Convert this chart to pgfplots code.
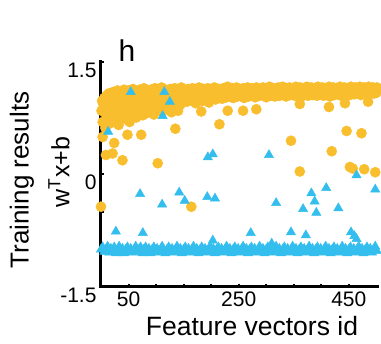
\documentclass[border=0pt]{standalone}
\usepackage{pgfplots}
\pgfplotsset{compat=1.18}
\usepackage{fontspec}
\setmainfont{Liberation Sans}
\definecolor{orng}{RGB}{249,190,45}
\definecolor{blu}{RGB}{52,190,238}
\begin{document}
\begin{tikzpicture}
\path[use as bounding box] (-101pt,-57pt) rectangle (280pt,287pt);
\begin{axis}[
  scale only axis,
  width=277pt, height=225pt,
  xmin=0, xmax=503, ymin=-1.5, ymax=1.5,
  axis x line*=bottom, axis y line*=left,
  axis line style={line width=3pt, line cap=rect},
  clip=false, axis on top,
  xtick={50,100,...,450},
  xticklabels={50,,,,250,,,,450},
  ytick={-1.5,-1,-0.5,0,0.5,1,1.5},
  yticklabels={-1.5,,,0,,,1.5},
  tick align=inside,
  major tick length=3pt,
  tick style={line width=2pt, black},
  /pgf/number format/assume math mode=true,
  tick label style={font=\fontsize{21}{21}\selectfont},
  yticklabel style={yshift=-8pt, xshift=-1pt},
  xticklabel style={yshift=-1pt},
]
% orange: cloud x<150, band, and outliers
\addplot[only marks, mark=*, mark size=5.1pt, color=orng, mark options={draw=orng, fill=orng}] coordinates {
(2,0.98)(6,1.02)(10,1.05)(14,1.08)(18,1.04)(22,1.10)(26,1.07)(30,1.12)(34,1.06)(38,1.10)
(42,1.13)(46,1.08)(50,1.12)(54,1.05)(58,1.14)(62,1.10)(66,1.07)(70,1.13)(74,1.09)(78,1.15)
(82,1.11)(86,1.06)(90,1.13)(94,1.10)(98,1.15)(102,1.08)(106,1.12)(110,1.16)(114,1.10)(118,1.13)
(122,1.07)(126,1.14)(130,1.11)(134,1.15)(138,1.09)(142,1.13)(146,1.16)
(1,0.85)(5,0.92)(9,0.80)(13,0.95)(17,0.88)(21,0.97)(25,0.90)(29,0.84)(33,0.99)(37,0.93)
(41,0.87)(45,0.96)(49,1.00)(53,0.91)(57,0.97)(61,0.89)(65,1.02)(69,0.94)(73,0.99)(77,0.92)
(81,1.03)(85,0.96)(89,0.90)(93,1.00)(97,0.95)(101,1.04)(105,0.93)(109,1.01)(113,0.97)(117,1.05)
(121,0.99)(125,0.95)(129,1.02)(133,0.98)(137,1.06)(141,1.00)(145,1.04)(149,0.97)
(3,0.70)(8,0.62)(12,0.75)(16,0.68)(20,0.80)(24,0.72)(28,0.85)(32,0.66)(36,0.78)(40,0.82)
(44,0.74)(48,0.86)(52,0.70)(56,0.80)(60,0.88)(64,0.76)(68,0.84)(72,0.90)(76,0.79)(80,0.86)
(84,0.82)(88,0.92)(92,0.85)(96,0.80)(100,0.88)(104,0.93)(108,0.84)(112,0.90)(116,0.86)(120,0.92)
(124,0.88)(128,0.83)(132,0.94)(136,0.89)(140,0.85)(144,0.93)
(150,1.12)(154,1.09)(158,1.14)(162,1.11)(166,1.15)(170,1.10)(174,1.13)(178,1.16)(182,1.11)(186,1.14)
(190,1.12)(194,1.15)(198,1.10)(202,1.13)(206,1.16)(210,1.12)(214,1.14)(218,1.11)(222,1.15)(226,1.13)
(230,1.17)(234,1.12)(238,1.15)(242,1.13)(246,1.16)(250,1.14)(254,1.11)(258,1.15)(262,1.13)(266,1.16)
(270,1.12)(274,1.15)(278,1.13)(282,1.16)(286,1.14)(290,1.12)(294,1.16)(298,1.13)(302,1.15)(306,1.17)
(310,1.13)(314,1.15)(318,1.12)(322,1.16)(326,1.14)(330,1.17)(334,1.13)(338,1.15)(342,1.16)(346,1.12)
(350,1.15)(354,1.17)(358,1.14)(362,1.16)(366,1.13)(370,1.15)(374,1.17)(378,1.14)(382,1.16)(386,1.13)
(390,1.15)(394,1.17)(398,1.14)(402,1.16)(406,1.13)(410,1.15)(414,1.17)(418,1.14)(422,1.16)(426,1.13)
(430,1.15)(434,1.17)(438,1.14)(442,1.16)(446,1.15)(450,1.13)(454,1.17)(458,1.15)(462,1.16)(466,1.14)
(470,1.17)(474,1.15)(478,1.16)(482,1.14)(486,1.17)(490,1.15)(494,1.16)(498,1.14)(501,1.16)
(152,1.02)(156,0.97)(160,1.05)(164,0.99)(168,1.04)(172,0.95)(176,1.06)(180,1.01)(184,0.98)(188,1.05)
(192,1.02)(196,0.96)(200,1.06)(204,1.03)(208,1.00)(212,1.07)(216,1.04)(220,1.01)(224,1.06)(228,1.03)
(232,1.08)(236,1.05)(240,1.02)(244,1.07)(248,1.04)(252,1.08)(256,1.05)(260,1.02)(264,1.07)(268,1.04)
(272,1.08)(276,1.06)(280,1.03)(284,1.07)(288,1.05)(292,1.09)(296,1.06)(300,1.03)(304,1.08)(308,1.05)
(312,1.09)(316,1.04)(320,1.07)(324,1.05)(328,1.09)(332,1.06)(336,1.04)(340,1.08)(344,1.06)(348,1.09)
(352,1.05)(356,1.08)(360,1.06)(364,1.04)(368,1.09)(372,1.07)(376,1.05)(380,1.09)(384,1.06)(388,1.08)
(392,1.05)(396,1.09)(400,1.07)(404,1.05)(408,1.09)(412,1.06)(416,1.04)(420,1.08)(424,1.06)(428,1.09)
(432,1.07)(436,1.05)(440,1.09)(444,1.07)(448,1.10)(452,1.06)(456,1.09)(460,1.07)(464,1.10)(468,1.08)
(472,1.06)(476,1.10)(480,1.08)(484,1.09)(488,1.07)(492,1.10)(496,1.08)(500,1.09)
(24,0.42)(21,0.28)(9,0.26)(39,0.19)(3,0.50)(48,0.53)(73,0.53)(135,0.61)(103,0.15)
(0,-0.43)(164,-0.43)
(182,0.84)(215,0.67)(230,0.85)(258,0.85)(282,0.87)(361,0.94)(414,0.90)(443,0.95)(485,0.97)
(345,0.45)(361,0.04)(419,0.31)(446,0.58)(473,0.55)(452,0.10)(457,0.08)(478,0.07)(498,0.03)
};
% blue: band and outliers
\addplot[only marks, mark=triangle*, mark size=5.4pt, color=blu, mark options={draw=blu, fill=blu}] coordinates {
(0,-1.00)(3,-0.97)(6,-1.03)(9,-1.00)(12,-0.96)(15,-1.04)(18,-0.99)(21,-1.02)(24,-0.97)(27,-1.05)
(30,-1.00)(33,-0.96)(36,-1.03)(39,-0.99)(42,-1.05)(45,-1.00)(48,-0.97)(51,-1.03)(54,-0.99)(57,-1.04)
(60,-1.01)(63,-0.96)(66,-1.03)(69,-1.00)(72,-0.97)(75,-1.05)(78,-1.00)(81,-0.97)(84,-1.03)(87,-0.99)
(90,-1.05)(93,-1.00)(96,-0.97)(99,-1.03)(102,-0.99)(105,-1.04)(108,-1.00)(111,-0.96)(114,-1.03)(117,-1.05)
(120,-1.00)(123,-0.97)(126,-1.03)(129,-0.99)(132,-1.04)(135,-1.00)(138,-0.96)(141,-1.03)(144,-0.99)(147,-1.05)
(150,-1.00)(153,-0.97)(156,-1.03)(159,-0.99)(162,-1.04)(165,-1.00)(168,-0.96)(171,-1.03)(174,-0.99)(177,-1.05)
(180,-1.00)(183,-0.97)(186,-1.03)(189,-0.99)(192,-1.04)(195,-1.00)(198,-0.96)(201,-1.03)(204,-0.99)(207,-1.05)
(210,-1.00)(213,-0.97)(216,-1.03)(219,-0.99)(222,-1.04)(225,-1.00)(228,-0.96)(231,-1.03)(234,-0.99)(237,-1.05)
(240,-1.00)(243,-0.97)(246,-1.03)(249,-0.99)(252,-1.04)(255,-1.00)(258,-0.96)(261,-1.03)(264,-0.99)(267,-1.05)
(270,-1.00)(273,-0.97)(276,-1.03)(279,-0.99)(282,-1.04)(285,-1.00)(288,-0.96)(291,-1.03)(294,-0.99)(297,-1.05)
(300,-1.00)(303,-0.97)(306,-1.03)(309,-0.99)(312,-1.04)(315,-1.00)(318,-0.96)(321,-1.03)(324,-0.99)(327,-1.05)
(330,-1.00)(333,-0.97)(336,-1.03)(339,-0.99)(342,-1.04)(345,-1.00)(348,-0.96)(351,-1.03)(354,-0.99)(357,-1.05)
(360,-1.00)(363,-0.97)(366,-1.03)(369,-0.99)(372,-1.04)(375,-1.00)(378,-0.96)(381,-1.03)(384,-0.99)(387,-1.05)
(390,-1.00)(393,-0.97)(396,-1.03)(399,-0.99)(402,-1.04)(405,-1.00)(408,-0.96)(411,-1.03)(414,-0.99)(417,-1.05)
(420,-1.00)(423,-0.97)(426,-1.03)(429,-0.99)(432,-1.04)(435,-1.00)(438,-0.96)(441,-1.03)(444,-0.99)(447,-1.05)
(450,-1.00)(453,-0.97)(456,-1.03)(459,-0.99)(462,-1.04)(465,-1.00)(468,-0.96)(471,-1.03)(474,-0.99)(477,-1.05)
(480,-1.00)(483,-0.97)(486,-1.03)(489,-0.99)(492,-1.04)(495,-1.00)(498,-0.96)(501,-1.02)
(54,1.10)(115,1.10)(125,0.97)(112,0.78)(13,0.57)
(194,0.23)(203,0.27)(305,0.26)
(71,-0.26)(111,-0.40)(142,-0.24)(152,-0.35)(193,-0.30)(207,-0.32)
(318,-0.38)(382,-0.25)(388,-0.36)(367,-0.46)(391,-0.51)(409,-0.18)(431,-0.45)(498,-0.20)(464,-0.01)
(27,-0.76)(76,-0.78)(272,-0.78)(345,-0.77)(372,-0.81)(454,-0.77)(460,-0.82)(464,-0.86)
(203,-0.88)(310,-0.92)
};
\end{axis}
\node[rotate=90, font=\fontsize{26}{26}\selectfont] at (-79pt,107pt) {Training results};
\node[rotate=90, font=\fontsize{25}{25}\selectfont] at (-42pt,115pt) {w\textsuperscript{T}x+b};
\node[font=\fontsize{30}{30}\selectfont] at (26pt,236pt) {h};
\node[font=\fontsize{26.5}{26.5}\selectfont] at (151pt,-39pt) {Feature vectors id};
\end{tikzpicture}
\end{document}
